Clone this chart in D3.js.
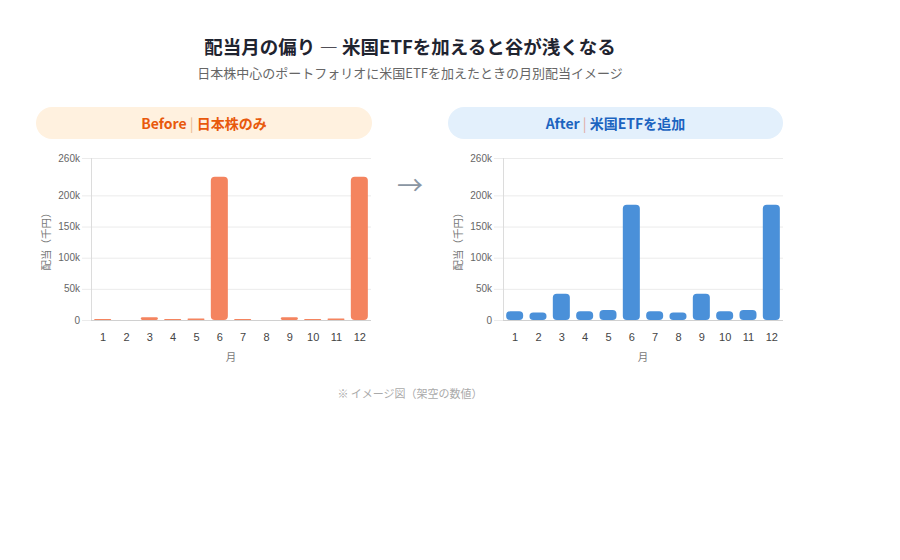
<!DOCTYPE html>
<html>
<head>
<meta charset="utf-8">
<script src="https://cdn.jsdelivr.net/npm/d3@7"></script>
<style>
  body { margin: 0; background: #fff; }
  svg { display: block; }
</style>
</head>
<body>
<svg id="chart" width="900" height="560"></svg>
<script>
const months = ['1','2','3','4','5','6','7','8','9','10','11','12'];
const beforeValues = [1.5, 0, 4.5, 1.5, 2.5, 230, 1.5, 0, 4.5, 1.5, 2.5, 230].map(v => v * 1000);
const afterValues = [14, 12, 42, 14, 16, 185, 14, 12, 42, 14, 16, 185].map(v => v * 1000);
const yTicks = [0, 50000, 100000, 150000, 200000, 260000];

const JP = '"Noto Sans CJK JP", "Noto Sans", sans-serif';
const TICK = '"Liberation Sans", Arial, "Noto Sans CJK JP", sans-serif';

const svg = d3.select('#chart');

svg.append('text')
  .attr('x', 410).attr('y', 53.5)
  .attr('text-anchor', 'middle')
  .style('font-family', JP).style('font-size', '18.5px').style('font-weight', 700)
  .attr('fill', '#1f2430')
  .text('配当月の偏り ― 米国ETFを加えると谷が浅くなる');

svg.append('text')
  .attr('x', 410).attr('y', 78)
  .attr('text-anchor', 'middle')
  .style('font-family', JP).style('font-size', '13px')
  .attr('fill', '#666')
  .text('日本株中心のポートフォリオに米国ETFを加えたときの月別配当イメージ');

svg.append('text')
  .attr('x', 410).attr('y', 398)
  .attr('text-anchor', 'middle')
  .style('font-family', JP).style('font-size', '11px')
  .attr('fill', '#aaa')
  .text('※ イメージ図（架空の数値）');

// arrow between panels
svg.append('text')
  .attr('x', 410).attr('y', 195)
  .attr('text-anchor', 'middle')
  .style('font-family', JP).style('font-size', '26px')
  .attr('fill', '#8a96a3')
  .text('→');

const panel = (opts) => {
  const g = svg.append('g');
  // header pill
  g.append('rect')
    .attr('x', opts.pill[0]).attr('y', 107)
    .attr('width', opts.pill[1] - opts.pill[0]).attr('height', 32)
    .attr('rx', 16)
    .attr('fill', opts.pillFill);
  const head = g.append('text')
    .attr('x', (opts.pill[0] + opts.pill[1]) / 2).attr('y', 128.5)
    .attr('text-anchor', 'middle')
    .style('font-family', JP).style('font-size', '14px').style('font-weight', 700)
    .attr('fill', opts.textColor);
  head.append('tspan').text(opts.label);
  head.append('tspan').attr('fill', opts.sepColor).style('font-weight', 400).text(' | ');
  head.append('tspan').text(opts.sub);

  const x = d3.scaleBand().domain(months).range(opts.xr).paddingInner(0.27).paddingOuter(0.135);
  const y = d3.scaleLinear().domain([0, 260000]).range([320, 158]);

  // grid
  g.append('g').selectAll('line').data(yTicks).join('line')
    .attr('x1', opts.xr[0] - 9).attr('x2', opts.xr[1])
    .attr('y1', d => y(d) + 0.5).attr('y2', d => y(d) + 0.5)
    .attr('stroke', '#ebebeb');

  g.append('line')
    .attr('x1', opts.xr[0] + 0.5).attr('x2', opts.xr[0] + 0.5)
    .attr('y1', 158).attr('y2', 320)
    .attr('stroke', '#dcdcdc');
  g.append('line')
    .attr('x1', opts.xr[0]).attr('x2', opts.xr[1])
    .attr('y1', 320.5).attr('y2', 320.5)
    .attr('stroke', '#d0d0d0');

  // y tick labels
  g.append('g').selectAll('text').data(yTicks).join('text')
    .attr('x', opts.xr[0] - 11).attr('y', d => y(d) + 3.5)
    .attr('text-anchor', 'end')
    .style('font-family', TICK).style('font-size', '10px')
    .attr('fill', '#666')
    .text(d => d === 0 ? '0' : (d / 1000) + 'k');

  // x tick labels
  g.append('g').selectAll('text').data(months).join('text')
    .attr('x', d => x(d) + x.bandwidth() / 2 + 0.5).attr('y', 341)
    .attr('text-anchor', 'middle')
    .style('font-family', TICK).style('font-size', '11px')
    .attr('fill', '#444')
    .text(d => d);

  // axis titles
  g.append('text')
    .attr('x', (opts.xr[0] + opts.xr[1]) / 2).attr('y', 361)
    .attr('text-anchor', 'middle')
    .style('font-family', JP).style('font-size', '10.5px')
    .attr('fill', '#777')
    .text('月');
  g.append('text')
    .attr('transform', `translate(${opts.xr[0] - 41},239) rotate(-90)`)
    .attr('text-anchor', 'middle')
    .style('font-family', JP).style('font-size', '10.5px')
    .attr('fill', '#777')
    .text('配当（千円）');

  // bars
  const bars = opts.values.map((v, i) => ({ m: months[i], v }));
  g.append('g').selectAll('path').data(bars.filter(d => d.v > 0)).join('path')
    .attr('d', d => {
      const x0 = x(d.m), w = x.bandwidth(), y0 = y(d.v), h = y(0) - y0;
      const r = Math.min(4, h / 2, w / 2);
      return `M${x0},${y0 + r}a${r},${r} 0 0 1 ${r},${-r}h${w - 2 * r}a${r},${r} 0 0 1 ${r},${r}` +
        `v${h - 2 * r}a${r},${r} 0 0 1 ${-r},${r}h${-(w - 2 * r)}a${r},${r} 0 0 1 ${-r},${-r}z`;
    })
    .attr('fill', opts.barColor);
};

panel({
  pill: [36, 372], pillFill: '#fff1df', textColor: '#e8590c', sepColor: '#e9b98f',
  label: 'Before', sub: '日本株のみ',
  xr: [91, 371], values: beforeValues, barColor: '#f4845f'
});

panel({
  pill: [448, 783], pillFill: '#e3f0fc', textColor: '#1c64c0', sepColor: '#e0a9a0',
  label: 'After', sub: '米国ETFを追加',
  xr: [503, 783], values: afterValues, barColor: '#4a90d9'
});
</script>
</body>
</html>
